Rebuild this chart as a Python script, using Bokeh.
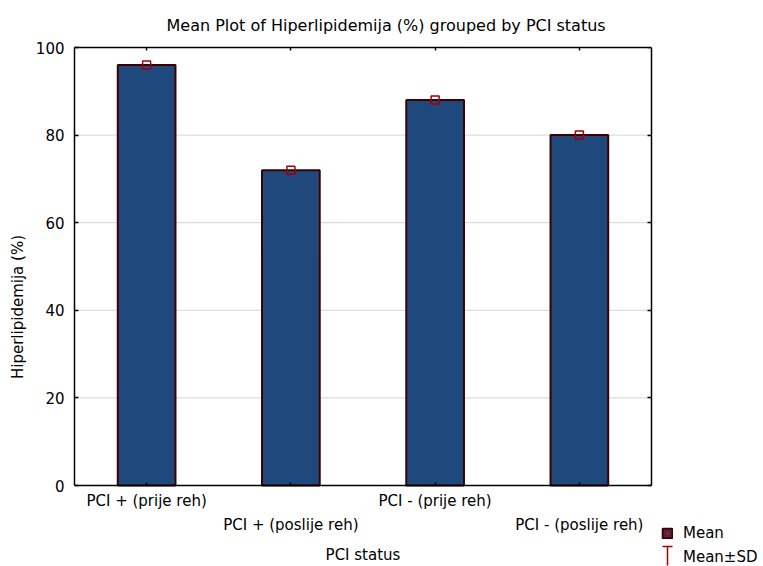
from bokeh.plotting import figure
from bokeh.models import (ColumnDataSource, LinearAxis, FixedTicker, Range1d, Legend,
                          LegendItem, Whisker, TeeHead)
from bokeh.embed import file_html
from bokeh.resources import INLINE

categories = ["PCI + (prije reh)", "PCI + (poslije reh)", "PCI - (prije reh)", "PCI - (poslije reh)"]
means = [96, 72, 88, 80]
y_ticks = [0, 20, 40, 60, 80, 100]
grid_ticks = [20, 40, 60, 80]

FONT = "DejaVu Sans"
FS = "15px"
BAR = "#1F497D"
BAR_LINE = "#3D0000"
MARK = "#A00000"

# layout geometry (pixels)
W, H = 763, 566
LEFT, TOP = 74, 47
PLOT_W, PLOT_H = 577, 438          # drawn chart box
FRAME_W, FRAME_H = W - LEFT, H - TOP

n = len(categories)
x0, x1 = -0.5, n - 0.5
x_end = x0 + (x1 - x0) * FRAME_W / PLOT_W
y0, y1 = 0, 100
y_start = y1 - (y1 - y0) * FRAME_H / PLOT_H

xs = list(range(n))
src = ColumnDataSource(dict(x=xs, mean=means, cat=categories))
gsrc = ColumnDataSource(dict(y=grid_ticks, xa=[x0] * len(grid_ticks), xb=[x1] * len(grid_ticks)))

p = figure(width=W, height=H, output_backend="svg", toolbar_location=None,
           x_range=Range1d(x0, x_end), y_range=Range1d(y_start, y1),
           min_border_left=LEFT, min_border_right=0, min_border_top=TOP, min_border_bottom=0)

p.title.text = "Mean Plot of Hiperlipidemija (%) grouped by  PCI status"
p.title.text_font = FONT
p.title.text_font_size = "16px"
p.title.text_font_style = "normal"
p.title.text_color = "black"
p.title.align = "left"
p.title.offset = 92
p.title.standoff = 26

p.outline_line_color = None
p.xgrid.visible = False
p.ygrid.visible = False

def style_axis(ax):
    ax.axis_line_color = "black"
    ax.axis_line_width = 1.5
    ax.major_tick_line_color = "black"
    ax.major_tick_line_width = 1.5
    ax.minor_tick_line_color = None
    ax.major_label_text_font = FONT
    ax.major_label_text_font_size = FS
    ax.major_label_text_color = "black"
    ax.axis_label_text_font = FONT
    ax.axis_label_text_font_size = FS
    ax.axis_label_text_font_style = "normal"
    ax.axis_label_text_color = "black"
    ax.major_tick_out = 0

# left axis
yl = p.yaxis[0]
style_axis(yl)
yl.ticker = FixedTicker(ticks=y_ticks)
yl.bounds = (y0, y1)
yl.major_tick_in = 4
yl.major_label_standoff = 10
yl.axis_label = "Hiperlipidemija (%)"
yl.axis_label_standoff = 6

# right axis (at the right edge of the chart box)
yr = LinearAxis(ticker=FixedTicker(ticks=y_ticks), fixed_location=x1, bounds=(y0, y1))
style_axis(yr)
yr.major_tick_in = 4
yr.major_label_standoff = 0
yr.major_label_text_font_size = "0px"
yr.major_label_overrides = {t: "" for t in y_ticks}
p.add_layout(yr, "right")

# bottom axis row 1 (even categories)
xb = p.xaxis[0]
style_axis(xb)
xb.ticker = FixedTicker(ticks=xs)
xb.fixed_location = y0
xb.bounds = (x0, x1)
xb.major_tick_in = 3
xb.major_label_standoff = 6
xb.major_label_overrides = {i: (categories[i] if i % 2 == 0 else "") for i in xs}

# bottom axis row 2 (odd categories) + axis title
xb2 = LinearAxis(ticker=FixedTicker(ticks=xs), fixed_location=y0, bounds=(x0, x1))
style_axis(xb2)
xb2.axis_line_color = None
xb2.major_tick_line_color = None
xb2.major_tick_in = 0
xb2.major_label_standoff = 30
xb2.major_label_overrides = {i: (categories[i] if i % 2 == 1 else "") for i in xs}
xb2.axis_label = "PCI status"
xb2.axis_label_standoff = 9
p.add_layout(xb2, "below")

# top axis
xt = LinearAxis(ticker=FixedTicker(ticks=xs), bounds=(x0, x1))
style_axis(xt)
xt.major_tick_in = 3
xt.major_label_standoff = 0
xt.major_label_text_font_size = "0px"
xt.major_label_overrides = {i: "" for i in xs}
p.add_layout(xt, "above")

# horizontal grid lines inside the chart box
p.segment(x0="xa", x1="xb", y0="y", y1="y", source=gsrc,
          line_color="#D4D4D4", line_width=1, level="underlay")

bars = p.vbar(x="x", top="mean", bottom=y0, width=0.4, source=src,
              fill_color=BAR, line_color=BAR_LINE, line_width=2)
marks = p.scatter(x="x", y="mean", marker="square", size=8, source=src,
                  fill_color=None, line_color=MARK, line_width=1.5)

# invisible renderer: icon slot for the Mean±SD entry
sd_dummy = p.scatter(x=[], y=[], marker="dash", size=0, line_alpha=0, fill_alpha=0)

legend = Legend(items=[LegendItem(label="Mean", renderers=[bars, marks]),
                       LegendItem(label="Mean±SD", renderers=[sd_dummy])],
                location=(661 - LEFT, 0), orientation="vertical",
                glyph_width=12, glyph_height=12, label_standoff=10, spacing=6,
                padding=0, margin=0, border_line_color=None, background_fill_alpha=0,
                label_text_font=FONT, label_text_font_size=FS, label_text_color="black")
p.add_layout(legend, "center")

# red "T" icon of the Mean±SD entry (screen units, relative to the frame)
tsrc = ColumnDataSource(dict(b=[667 - LEFT], lo=[H - 565], hi=[H - 546]))
tee = Whisker(source=tsrc, base="b", lower="lo", upper="hi", dimension="height",
              base_units="screen", lower_units="screen", upper_units="screen",
              line_color=MARK, line_width=1.5, lower_head=None,
              upper_head=TeeHead(size=10, line_color=MARK, line_width=1.5))
p.add_layout(tee)

open("out.html", "w").write(file_html(p, INLINE))
